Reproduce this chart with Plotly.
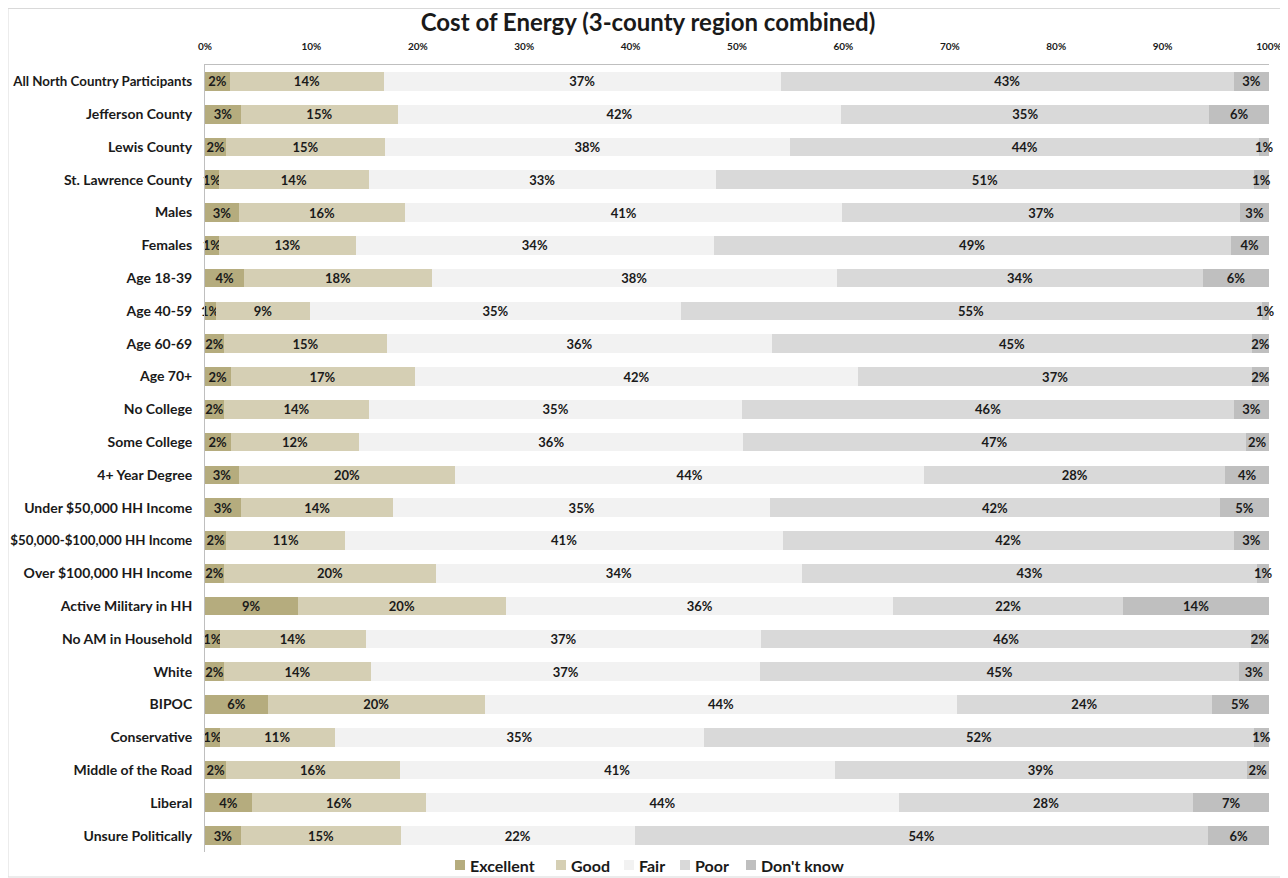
import plotly.graph_objects as go

categories = [
    "All North Country Participants", "Jefferson County", "Lewis County",
    "St. Lawrence County", "Males", "Females", "Age 18-39", "Age 40-59",
    "Age 60-69", "Age 70+", "No College", "Some College", "4+ Year Degree",
    "Under $50,000 HH Income", "$50,000-$100,000 HH Income",
    "Over $100,000 HH Income", "Active Military in HH", "No AM in Household",
    "White", "BIPOC", "Conservative", "Middle of the Road", "Liberal",
    "Unsure Politically",
]

excellent = [2.35, 3.4, 2.0, 1.3, 3.2, 1.3, 3.7, 1.0, 1.8, 2.4, 1.8, 2.4,
             3.2, 3.4, 2.0, 1.8, 8.7, 1.4, 1.8, 5.9, 1.4, 2.0, 4.4, 3.4]
good = [14.45, 14.7, 14.9, 14.1, 15.6, 12.9, 17.6, 8.9, 15.3, 17.3, 13.6, 12.1,
        20.3, 14.3, 11.2, 19.9, 19.6, 13.7, 13.8, 20.4, 10.8, 16.3, 16.4, 15.0]
fair = [37.3, 41.7, 38.1, 32.6, 41.1, 33.6, 38.1, 34.8, 36.2, 41.7, 35.1, 36.1,
        44.1, 35.4, 41.1, 34.4, 36.4, 37.2, 36.6, 44.4, 34.7, 40.9, 44.4, 22.0]
poor = [42.6, 34.6, 44.1, 50.6, 37.4, 48.6, 34.4, 54.6, 45.1, 37.0, 46.2, 47.2,
        28.3, 42.3, 42.4, 42.8, 21.6, 46.0, 45.0, 23.9, 51.7, 38.7, 27.7, 53.9]
dont_know = [3.3, 5.6, 0.9, 1.4, 2.7, 3.6, 6.2, 0.7, 1.6, 1.6, 3.3, 2.2,
             4.1, 4.6, 3.3, 1.1, 13.7, 1.7, 2.8, 5.4, 1.4, 2.1, 7.1, 5.7]

tick_values = [0, 10, 20, 30, 40, 50, 60, 70, 80, 90, 100]

series_names = ["Excellent", "Good", "Fair", "Poor", "Don't know"]
series_values = [excellent, good, fair, poor, dont_know]
series_colors = ["#B5AC7E", "#D5CFB4", "#F2F2F2", "#D9D9D9", "#BFBFBF"]

# page x of each legend swatch (layout only)
legend_swatch_x = [455, 556, 624, 680, 746]

FONT = "Lato, 'Open Sans', sans-serif"
INK = "#1a1a1a"

fig = go.Figure()
for name, vals, color in zip(series_names, series_values, series_colors):
    fig.add_trace(go.Bar(
        name=name, y=categories, x=vals, orientation="h",
        marker=dict(color=color, line=dict(width=0)),
        texttemplate="<b>%{x:.0f}%</b>", textposition="inside",
        insidetextanchor="middle", textangle=0, constraintext="none",
        cliponaxis=False,
        textfont=dict(family=FONT, size=13, color=INK),
        hovertemplate="%{y}<br>" + name + ": %{x:.1f}%<extra></extra>",
        showlegend=False,
    ))

# The page body adds an 8px offset; work in page coordinates and subtract it.
OFF = 8
W, H = 1288 - OFF, 878 - OFF
px_left, px_right, px_top, px_bottom = 205, 1269, 65, 852
L = px_left - OFF
R = W - (px_right - OFF)
T = px_top - OFF
B = H - (px_bottom - OFF)
pw, ph = px_right - px_left, px_bottom - px_top


def py(page_y):
    return (px_bottom - page_y) / ph


def pxx(page_x):
    return (page_x - px_left) / pw


def ylabel(c):
    if len(c) > 25:
        return '<b><span style="font-size:13.3px">%s</span></b>' % c
    return "<b>%s</b>" % c


fig.update_layout(
    width=W, height=H,
    barmode="stack", bargap=0.43,
    margin=dict(l=L, r=R, t=T, b=B, autoexpand=False),
    paper_bgcolor="white", plot_bgcolor="white",
    font=dict(family=FONT, color=INK),
    uniformtext=dict(minsize=13, mode="show"),
    showlegend=False,
    title=dict(text="<b>Cost of Energy (3-county region combined)</b>",
               x=0.5, xanchor="center", xref="container",
               y=1, yanchor="top", pad=dict(t=6, b=0),
               font=dict(family=FONT, size=24, color=INK)),
    xaxis=dict(side="top", range=[0, 100.001],
               tickvals=tick_values,
               ticktext=["<b>%d%%</b>" % v for v in tick_values],
               showgrid=False, zeroline=False, showline=True,
               linecolor="#BFBFBF", linewidth=1,
               tickfont=dict(family=FONT, size=10, color=INK),
               ticklabelstandoff=10, fixedrange=True),
    yaxis=dict(autorange="reversed", showgrid=False, showline=True,
               linecolor="#BFBFBF", linewidth=1,
               tickvals=categories,
               ticktext=[ylabel(c) for c in categories],
               tickfont=dict(family=FONT, size=14, color=INK),
               ticklabelstandoff=9),
)

# custom legend (swatch + bold label), matching the compact reference layout
for name, color, sx in zip(series_names, series_colors, legend_swatch_x):
    fig.add_shape(type="rect", xref="paper", yref="paper",
                  x0=pxx(sx), x1=pxx(sx + 10), y0=py(870), y1=py(860),
                  line=dict(width=0), fillcolor=color)
    fig.add_annotation(xref="paper", yref="paper", x=pxx(sx + 13), y=py(865),
                       xanchor="left", yanchor="middle", showarrow=False,
                       text="<b>%s</b>" % name,
                       font=dict(family=FONT, size=16, color=INK))

# thin frame around the whole chart
fig.add_shape(type="rect", xref="paper", yref="paper",
              x0=pxx(8), x1=pxx(1286),
              y0=py(877), y1=py(OFF + 0.5),
              line=dict(color="#D9D9D9", width=1), fillcolor="rgba(0,0,0,0)",
              layer="below")

fig.write_html("out.html")
